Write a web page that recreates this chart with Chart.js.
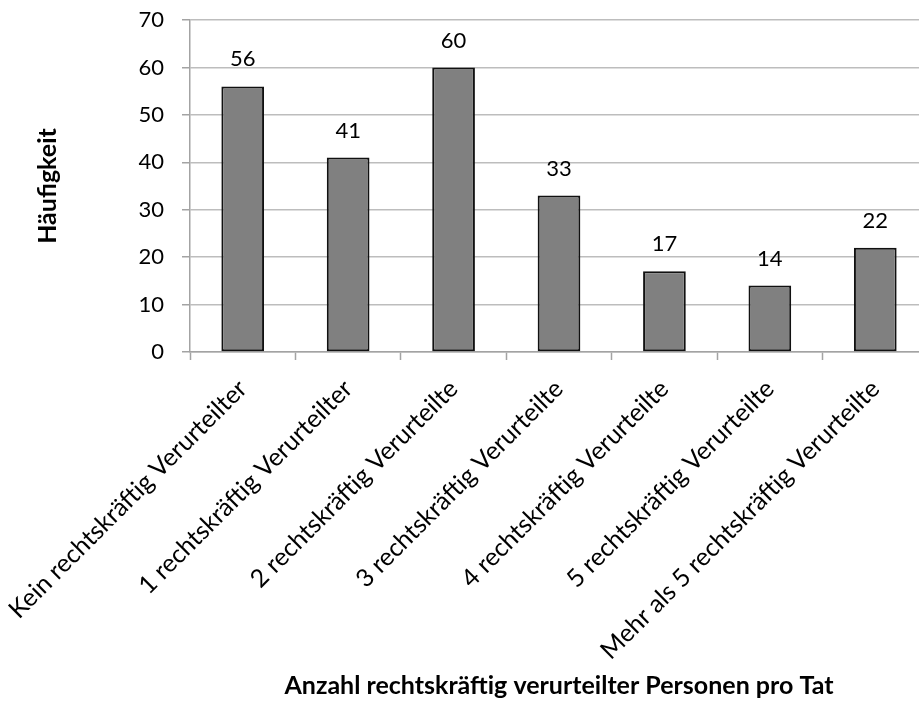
<!DOCTYPE html>
<html>
<head>
<meta charset="utf-8">
<script src="https://cdn.jsdelivr.net/npm/chart.js@4/dist/chart.umd.min.js"></script>
<style>
  html, body { margin: 0; padding: 0; background: #ffffff; overflow: hidden; }
  #wrap { position: relative; width: 930px; height: 704px; }
</style>
</head>
<body>
<div id="wrap"><canvas id="chart"></canvas></div>
<script>
// Number of offences by count of legally convicted persons
const categories = [
  'Kein rechtskräftig Verurteilter',
  '1 rechtskräftig Verurteilter',
  '2 rechtskräftig Verurteilte',
  '3 rechtskräftig Verurteilte',
  '4 rechtskräftig Verurteilte',
  '5 rechtskräftig Verurteilte',
  'Mehr als 5 rechtskräftig Verurteilte'
];
const counts = [56, 41, 60, 33, 17, 14, 22];
const yTicks = [0, 10, 20, 30, 40, 50, 60, 70];
const yAxisTitle = 'Häufigkeit';
const xAxisTitle = 'Anzahl rechtskräftig verurteilter Personen pro Tat';

const FONT = 'Lato';
const gridGray = '#bdbdbd';
const axisGray = '#a3a3a3';

// Writes each bar's value centred above it
const valueLabels = {
  id: 'valueLabels',
  afterDatasetsDraw(chart) {
    const { ctx } = chart;
    const meta = chart.getDatasetMeta(0);
    const values = chart.data.datasets[0].data;
    ctx.save();
    ctx.font = `22px ${FONT}`;
    ctx.fillStyle = '#000000';
    ctx.textAlign = 'center';
    ctx.textBaseline = 'middle';
    meta.data.forEach((bar, i) => {
      const { x, y } = bar.getProps(['x', 'y'], true);
      ctx.fillText(String(values[i]), x, y - 27);
    });
    ctx.restore();
  }
};

new Chart(document.getElementById('chart'), {
  type: 'bar',
  data: {
    labels: categories,
    datasets: [{
      data: counts,
      backgroundColor: '#808080',
      borderColor: '#111111',
      borderWidth: 2,
      borderSkipped: false,
      categoryPercentage: 1,
      barPercentage: 0.405
    }]
  },
  options: {
    responsive: true,
    maintainAspectRatio: false,
    animation: false,
    layout: { padding: { left: 0, right: 2, top: 20, bottom: 0 } },
    plugins: {
      legend: { display: false },
      tooltip: { enabled: false }
    },
    scales: {
      x: {
        offset: true,
        grid: {
          offset: true,
          drawOnChartArea: false,
          drawTicks: true,
          tickLength: 8,
          tickWidth: 1.5,
          tickColor: axisGray
        },
        border: { color: axisGray, width: 1.5 },
        ticks: {
          autoSkip: false,
          minRotation: 45,
          maxRotation: 45,
          padding: 14,
          color: '#000000',
          font: { family: FONT, size: 25 }
        },
        title: {
          display: true,
          text: xAxisTitle,
          color: '#000000',
          font: { family: FONT, size: 25, weight: 'bold' },
          padding: { top: 0, bottom: 3 }
        },
        afterFit(scale) {
          scale.height = 352;
          scale.paddingLeft = 0;
          scale.paddingRight = 0;
        }
      },
      y: {
        min: 0,
        max: 70,
        grid: {
          color: gridGray,
          lineWidth: 1.5,
          drawTicks: true,
          tickLength: 8,
          tickColor: axisGray
        },
        border: { color: axisGray, width: 1.5 },
        afterBuildTicks(scale) {
          scale.ticks = yTicks.map(v => ({ value: v }));
        },
        ticks: {
          padding: 18,
          color: '#000000',
          font: { family: FONT, size: 22 }
        },
        title: {
          display: true,
          text: yAxisTitle,
          color: '#000000',
          font: { family: FONT, size: 25, weight: 'bold' },
          padding: { top: 33, bottom: 0 }
        },
        afterFit(scale) {
          scale.width = 190;
          scale.paddingTop = 0;
          scale.paddingBottom = 0;
        }
      }
    }
  },
  plugins: [valueLabels]
});
</script>
</body>
</html>
